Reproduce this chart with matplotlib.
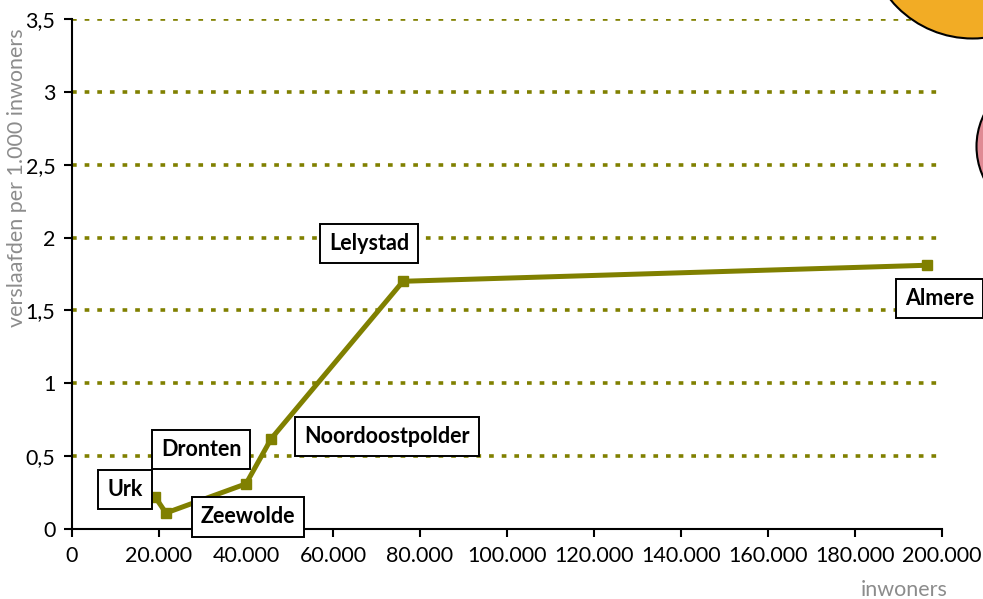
import matplotlib
matplotlib.use('Agg')
import matplotlib.pyplot as plt
import matplotlib.ticker as ticker

plt.rcParams['font.family'] = ['Lato', 'DejaVu Sans']

# gemeenten in Flevoland
gemeenten = ['Urk', 'Zeewolde', 'Dronten', 'Noordoostpolder', 'Lelystad', 'Almere']
inwoners = [19100, 21600, 40000, 45800, 76100, 196500]
verslaafden = [0.22, 0.11, 0.31, 0.62, 1.70, 1.81]

# label offsets in pixels (dx, dy) from the point
offsets = [(-30, 7), (82, -4), (-45, 34), (116, 2), (-34, 38), (13, -33)]

# partly visible bubbles beyond the right edge
bubble_x = [206800, 224300]
bubble_y = [4.10, 2.63]
bubble_r = [106, 72]          # radius in pixels
bubble_kleur = ['#f2ac25', '#e08a94']

olive = '#808000'

fig = plt.figure(figsize=(9.83, 5.99), dpi=100)
ax = fig.add_axes([72 / 983, 70 / 599, 870 / 983, 510 / 599])

ax.set_xlim(0, 200000)
ax.set_ylim(0, 3.5)

ax.set_yticks([i * 0.5 for i in range(8)])
ax.set_xticks(range(0, 200001, 20000))
ax.yaxis.set_major_formatter(ticker.FuncFormatter(lambda v, p: f'{v:g}'.replace('.', ',')))
ax.xaxis.set_major_formatter(ticker.FuncFormatter(lambda v, p: f'{int(v):,}'.replace(',', '.')))

for y in ax.get_yticks()[1:]:
    ax.axhline(y, color=olive, lw=2.6, ls=(0, (1.3, 2.2)), zorder=1)

ax.plot(inwoners, verslaafden, color=olive, lw=3.6, marker='s', ms=7.5,
        zorder=3, solid_joinstyle='miter')

for naam, x, y, (dx, dy) in zip(gemeenten, inwoners, verslaafden, offsets):
    ax.annotate(naam, (x, y), xytext=(dx, dy), textcoords='offset pixels',
                ha='center', va='center', fontsize=15.5, fontweight='bold', zorder=5,
                bbox=dict(boxstyle='square,pad=0.42', fc='white', ec='black', lw=1.4))

for bx, by, br, kl in zip(bubble_x, bubble_y, bubble_r, bubble_kleur):
    ax.scatter([bx], [by], s=(2 * br * 0.72) ** 2, color=kl, edgecolor='black',
               linewidth=1.5, clip_on=False, zorder=2)

for s in ['top', 'right']:
    ax.spines[s].set_visible(False)
for s in ['left', 'bottom']:
    ax.spines[s].set_linewidth(1.5)
ax.tick_params(axis='both', labelsize=15.5, width=1.5, length=6, direction='out', pad=6)

ax.set_ylabel('verslaafden per 1.000 inwoners', fontsize=15.5, color='#8c8c8c')
ax.yaxis.set_label_coords(-0.052, 0.688)
ax.set_xlabel('inwoners', fontsize=15.5, color='#8c8c8c', va='center')
ax.xaxis.set_label_coords(0.957, -0.12)

fig.savefig('out.png', dpi=100)
